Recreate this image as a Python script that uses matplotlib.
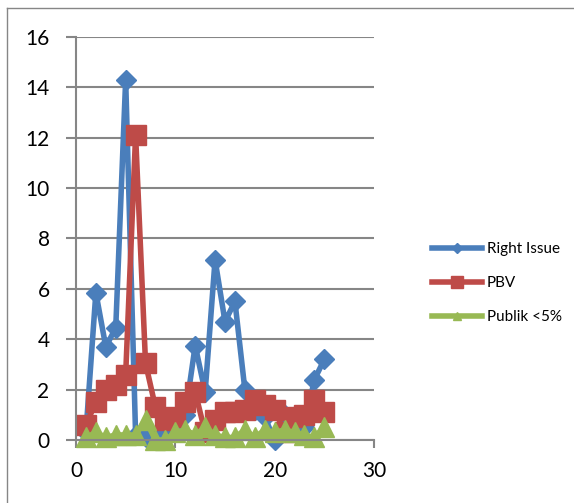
import matplotlib
matplotlib.use('Agg')
import matplotlib.pyplot as plt
from matplotlib.lines import Line2D

# data
x = list(range(1, 26))
right_issue = [0.3, 5.85, 3.7, 4.45, 14.3, 0.2, 0.1, 0.0, 0.3, 0.5, 1.0, 3.75, 1.9,
               7.15, 4.7, 5.5, 2.0, 1.2, 0.9, 0.0, 1.0, 0.8, 0.5, 2.4, 3.2]
pbv = [0.6, 1.5, 2.0, 2.2, 2.6, 12.1, 3.05, 1.3, 0.8, 0.9, 1.5, 1.9, 0.3,
       0.8, 1.1, 1.1, 1.2, 1.6, 1.4, 1.2, 0.3, 0.9, 1.0, 1.6, 1.1]
publik = [0.1, 0.3, 0.1, 0.2, 0.2, 0.2, 0.8, 0.0, 0.0, 0.3, 0.4, 0.2, 0.5,
          0.2, 0.1, 0.1, 0.4, 0.1, 0.4, 0.3, 0.4, 0.3, 0.2, 0.1, 0.5]
names = ['Right Issue', 'PBV', 'Publik <5%']

plt.rcParams['font.family'] = ['Lato', 'DejaVu Sans']

W, H = 574, 503
fig = plt.figure(figsize=(W / 100, H / 100), dpi=100)
ax = fig.add_axes([76 / W, 1 - 440 / H, (374 - 76) / W, (440 - 37) / H])

grid = '#868686'
ax.plot(x, right_issue, color='#4A7EBB', lw=4, marker='D', ms=10.5, clip_on=False, label=names[0])
ax.plot(x, pbv, color='#BE4B48', lw=4, marker='s', ms=14, clip_on=False, label=names[1])
ax.plot(x, publik, color='#98B954', lw=4, marker='^', ms=14, clip_on=False, label=names[2])

ax.set_xlim(0, 30)
ax.set_ylim(0, 16)
ax.set_xticks([0, 10, 20, 30])
ax.set_yticks(range(0, 17, 2))
ax.yaxis.grid(True, color=grid, lw=1.5)
ax.set_axisbelow(True)
for s in ['top', 'right']:
    ax.spines[s].set_visible(False)
for s in ['left', 'bottom']:
    ax.spines[s].set_color(grid)
    ax.spines[s].set_linewidth(1.5)
ax.tick_params(axis='y', length=7, width=1.5, color=grid, pad=12, labelsize=15)
ax.tick_params(axis='x', length=6, width=1.5, color=grid, pad=9, labelsize=15)

handles = [Line2D([], [], color='#4A7EBB', lw=4, marker='D', ms=5),
           Line2D([], [], color='#BE4B48', lw=4, marker='s', ms=8),
           Line2D([], [], color='#98B954', lw=4, marker='^', ms=6)]
fig.legend(handles, names, loc='center left', bbox_to_anchor=(418 / W, 1 - 283 / H),
           frameon=False, fontsize=11, handlelength=3.3, labelspacing=1.3, handletextpad=0.3)

# chart area border
fig.add_artist(Line2D([7 / W, 1], [1 - 8 / H, 1 - 8 / H], transform=fig.transFigure, color=grid, lw=1))
fig.add_artist(Line2D([7 / W, 7 / W], [0, 1 - 8 / H], transform=fig.transFigure, color=grid, lw=1))

fig.savefig('out.png', dpi=100)
